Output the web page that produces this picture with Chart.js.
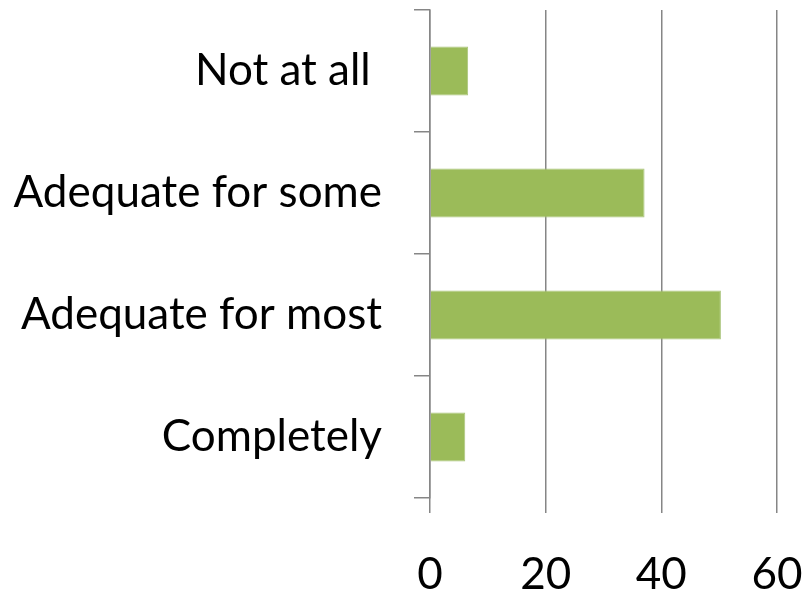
<!DOCTYPE html>
<html>
<head>
<meta charset="utf-8">
<script src="https://cdn.jsdelivr.net/npm/chart.js@4/dist/chart.umd.min.js"></script>
<style>
    html, body { margin: 0; padding: 0; background: #fff; }
    #wrap { width: 804px; height: 593px; }
</style>
</head>
<body>
<div id="wrap"><canvas id="chart"></canvas></div>
<script>
// Chart data
const categories = ['Not at all ', 'Adequate for some', 'Adequate for most', 'Completely'];
const values = [6.6, 37.1, 50.3, 6.1];
const xTicks = [0, 20, 40, 60];

document.addEventListener('DOMContentLoaded', function () {
    Chart.defaults.font.family = 'Lato, "Open Sans", sans-serif';
    Chart.defaults.color = '#000';

    const gridColor = '#868686';
    const ctx = document.getElementById('chart').getContext('2d');

    // drop the extra room Chart.js keeps for the outer tick labels
    function noEdgePadding(scale) {
        scale.paddingTop = 0;
        scale.paddingBottom = 0;
        scale.paddingLeft = 0;
        scale.paddingRight = 0;
    }

    new Chart(ctx, {
        type: 'bar',
        data: {
            labels: categories,
            datasets: [{
                data: values,
                backgroundColor: '#9bbb59',
                borderColor: '#a9c47a',
                borderWidth: 1,
                barPercentage: 0.4,
                categoryPercentage: 1.0,
            }],
        },
        options: {
            indexAxis: 'y',
            responsive: true,
            maintainAspectRatio: false,
            animation: false,
            layout: {
                padding: { top: 10, right: 27, bottom: 0, left: 0 },
            },
            plugins: {
                legend: { display: false },
                tooltip: { enabled: false },
            },
            scales: {
                x: {
                    min: 0,
                    max: 60,
                    afterBuildTicks: function (scale) {
                        scale.ticks = xTicks.map(v => ({ value: v }));
                    },
                    afterFit: function (scale) {
                        scale.height = 95;
                        noEdgePadding(scale);
                    },
                    grid: {
                        color: gridColor,
                        lineWidth: 1.5,
                        drawTicks: true,
                        tickLength: 15,
                    },
                    border: { display: false },
                    ticks: {
                        font: { size: 44 },
                        padding: 35,
                        maxRotation: 0,
                    },
                },
                y: {
                    afterFit: function (scale) {
                        scale.width = 430;
                        noEdgePadding(scale);
                    },
                    grid: {
                        offset: true,
                        color: gridColor,
                        lineWidth: 1.5,
                        drawOnChartArea: false,
                        drawTicks: true,
                        tickLength: 16,
                    },
                    border: { display: true, color: gridColor, width: 1.5 },
                    ticks: {
                        font: { size: 44 },
                        padding: 32,
                    },
                },
            },
        },
    });
});
</script>
</body>
</html>
